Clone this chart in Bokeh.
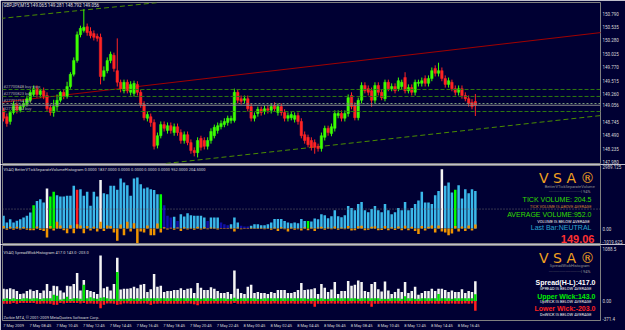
from bokeh.plotting import figure
from bokeh.layouts import column
from bokeh.models import ColumnDataSource, Range1d, FixedTicker, PrintfTickFormatter, Label, Span
from bokeh.embed import file_html
from bokeh.resources import INLINE

# ---------------- data ----------------
opens = [148.96,148.84,148.75,148.92,149.07,148.96,149.03,149.07,149.15,149.26,
         149.37,149.26,149.33,149.24,149.01,148.92,149.03,149.15,149.30,149.22,
         149.41,149.64,149.90,150.39,150.47,150.54,150.45,150.41,150.36,150.34,
         149.60,149.71,149.90,150.00,149.71,149.49,149.33,149.49,149.30,149.28,
         149.45,149.30,149.07,148.81,148.84,148.73,148.30,148.48,148.69,148.58,
         148.67,148.54,148.65,148.54,148.39,148.50,148.35,148.20,148.16,148.43,
         148.39,148.28,148.39,148.48,148.58,148.65,148.69,148.73,148.77,148.77,
         149.30,149.18,149.15,149.18,149.03,148.81,148.90,148.98,148.94,148.99,
         148.96,149.05,148.92,149.03,148.92,148.81,148.82,148.79,148.86,148.75,
         148.50,148.45,148.39,148.35,148.28,148.24,148.45,148.62,148.52,148.62,
         148.86,148.90,148.81,148.90,149.24,149.05,148.82,149.15,149.43,149.37,
         149.33,149.15,149.43,149.30,149.18,149.49,149.37,149.41,149.37,149.41,
         149.58,149.33,149.39,149.30,149.47,149.47,149.56,149.47,149.56,149.75,
         149.66,149.71,149.56,149.45,149.49,149.37,149.30,149.37,149.24,149.18,
         149.11,149.126]
closes = [148.81,148.71,148.92,149.07,148.96,149.03,149.09,149.18,149.30,149.37,
          149.26,149.33,149.22,148.99,148.92,149.03,149.15,149.30,149.22,149.41,
          149.64,149.90,150.39,150.51,150.53,150.43,150.37,150.34,150.32,149.60,
          149.71,149.90,150.02,149.75,149.49,149.37,149.49,149.33,149.45,149.47,
          149.30,149.07,148.82,148.88,148.73,148.28,148.48,148.69,148.62,148.67,
          148.58,148.65,148.54,148.39,148.50,148.35,148.20,148.16,148.39,148.26,
          148.28,148.39,148.56,148.64,148.67,148.71,148.75,148.81,148.81,149.30,
          149.15,149.13,149.18,148.99,148.81,148.86,148.98,148.92,148.99,148.96,
          149.03,148.99,149.03,148.92,148.81,148.86,148.88,148.86,148.75,148.48,
          148.39,148.31,148.26,148.26,148.24,148.48,148.62,148.54,148.65,148.90,
          148.90,148.81,148.90,149.20,149.03,148.82,149.15,149.43,149.33,149.30,
          149.15,149.43,149.30,149.20,149.49,149.37,149.41,149.33,149.52,149.49,
          149.33,149.39,149.30,149.49,149.49,149.52,149.47,149.56,149.71,149.66,
          149.71,149.56,149.45,149.52,149.37,149.30,149.37,149.24,149.18,149.09,
          149.03,149.056]
highs = [149.01,148.90,148.96,149.13,149.11,149.07,149.15,149.24,149.35,149.43,
         149.43,149.37,149.39,149.30,149.07,149.16,149.26,149.33,149.35,149.50,
         149.68,149.96,150.45,150.56,150.87,150.60,150.53,150.47,150.41,150.41,
         149.79,149.96,150.07,150.05,150.32,149.54,149.54,149.54,149.51,149.52,
         149.51,149.35,149.13,148.94,148.90,148.79,148.54,148.75,148.75,148.73,
         148.73,148.71,148.71,148.60,148.56,148.56,148.41,148.26,148.45,148.48,
         148.45,148.45,148.62,148.69,148.73,148.77,148.81,148.86,148.86,149.37,
         149.35,149.24,149.24,149.24,149.09,148.92,149.03,149.03,149.05,149.05,
         149.09,149.11,149.09,149.09,148.98,148.92,148.94,148.92,148.92,148.81,
         148.56,148.50,148.45,148.41,148.33,148.54,148.67,148.67,148.71,148.96,
         148.96,148.96,148.96,149.26,149.30,149.11,149.20,149.49,149.49,149.43,
         149.39,149.49,149.49,149.35,149.54,149.54,149.47,149.47,149.58,149.54,
         149.68,149.45,149.45,149.54,149.54,149.58,149.62,149.62,149.77,149.81,
         149.86,149.77,149.62,149.58,149.54,149.43,149.43,149.43,149.30,149.24,
         149.17,149.269]
lows = [148.75,148.65,148.69,148.88,148.90,148.92,148.99,149.03,149.11,149.22,
        149.20,149.20,149.17,148.94,148.86,148.84,148.95,149.11,149.17,149.18,
        149.37,149.60,149.86,150.34,150.43,150.37,150.32,150.28,150.26,149.45,
        149.52,149.66,149.85,149.69,149.41,149.30,149.28,149.28,149.24,149.22,
        149.24,149.01,148.77,148.75,148.65,148.22,148.24,148.43,148.56,148.52,
        148.52,148.48,148.48,148.33,148.33,148.30,148.14,148.09,148.07,148.20,
        148.22,148.22,148.33,148.43,148.52,148.60,148.64,148.67,148.71,148.73,
        149.09,149.07,149.09,148.94,148.75,148.75,148.84,148.86,148.88,148.90,
        148.90,148.94,148.86,148.86,148.75,148.75,148.77,148.73,148.69,148.43,
        148.33,148.26,148.20,148.14,148.18,148.18,148.39,148.48,148.47,148.56,
        148.81,148.75,148.75,148.84,148.98,148.77,148.77,149.09,149.28,149.24,
        149.03,149.09,149.24,149.15,149.13,149.32,149.32,149.28,149.32,149.35,
        149.28,149.28,149.24,149.24,149.41,149.41,149.41,149.41,149.51,149.60,
        149.60,149.51,149.39,149.39,149.32,149.24,149.24,149.18,149.13,149.03,
        148.98,148.853]
volumes = [620,290,450,290,380,450,540,620,780,1140,
           1350,1430,1270,1960,1570,1800,1630,1570,1570,1600,
           1600,2090,1900,1920,1600,1800,1110,1800,1570,2380,
           1730,1680,2090,2090,1900,2450,2250,2120,1600,2450,
           2500,2170,1960,2010,1920,1890,1680,1680,1140,620,
           540,570,370,700,590,750,650,620,620,620,
           540,370,540,540,540,290,210,160,210,540,
           290,130,100,100,130,210,210,160,160,210,
           290,460,460,460,370,290,260,290,260,460,
           370,370,340,490,450,700,650,500,600,900,
           600,550,650,1100,1000,900,1200,1300,900,800,
           950,1100,900,800,1200,900,700,800,1000,900,
           1300,900,1000,1200,1370,1800,1270,1270,1200,1630,
           1840,2900,2090,2250,1760,1900,2120,1470,1920,1730,
           1920,1840]
vol_delta = [120,-60,80,-60,90,-50,70,-60,-90,-80,
             100,-70,-120,-440,120,-100,330,150,-80,-230,
             160,-230,210,150,-230,120,-100,90,-150,330,
             -120,150,120,-200,-600,200,-330,330,-150,260,
             -720,-150,-200,150,-330,-330,250,-200,60,-50,
             40,-60,50,-120,60,-50,40,-60,80,-50,
             60,-40,50,40,-50,-30,30,-30,40,-150,
             50,-40,30,-30,40,30,-30,40,-40,30,
             -60,50,-120,60,-40,-150,50,-60,-40,-100,
             60,-80,50,-120,50,80,-60,50,-40,100,
             -60,50,-40,120,-100,-80,110,130,-90,-60,
             80,110,-90,-70,120,-80,60,-70,100,-80,
             130,-80,90,-120,-270,120,-100,90,150,-200,
             150,-150,-200,-330,-250,120,-150,100,-120,150,
             -100,200]
vol_signal = {9: "green", 13: "white", 14: "green", 15: "green", 22: "red", 29: "white",
              47: "green", 48: "dark", 49: "dark", 50: "dark", 52: "dark", 61: "dark",
              65: "dark", 66: "dark", 67: "dark", 71: "dark", 72: "dark", 73: "dark",
              91: "green", 131: "white", 135: "green"}
avg_volume = 952.0

price_ticks = [150.790, 150.535, 150.280, 150.025, 149.770, 149.515, 149.260,
               148.745, 148.490, 148.235, 147.980]
last_price = 149.056
order_lines = [149.354, 149.222, 148.938]
order_labels = ["#27700848 buy stop", "#27700823 buy", "#27701754 buy", "#27702754 buy"]
order_label_prices = [149.41, 149.28, 149.15, 148.99]
pending_line = 149.089
trend_red_x, trend_red_y = [-0.9, 178.7], [149.108, 150.431]
trend_up_x, trend_up_y = [-0.9, 46.4], [150.696, 150.998]
trend_lo_x, trend_lo_y = [48.5, 178.7], [147.955, 148.863]

time_bars = [0, 8, 16, 24, 32, 40, 48, 56, 64, 72, 80, 88, 96, 104, 112, 120, 128, 136]
time_labels = ["7 May 2009", "7 May 08:45", "7 May 10:45", "7 May 12:45", "7 May 14:45",
               "7 May 16:45", "7 May 18:45", "7 May 20:45", "7 May 22:45", "8 May 00:45",
               "8 May 02:45", "8 May 04:45", "8 May 06:45", "8 May 08:45", "8 May 10:45",
               "8 May 12:45", "8 May 14:45", "8 May 16:45"]

# ---------------- style ----------------
BG = "#000033"
FRAME = "#808080"
BULL = "#3cff00"
BEAR = "#ff2424"
VOLC = {"blue": "#3ab8ea", "dark": "#1010a8", "green": "#00ff00", "red": "#ff2020", "white": "#f4f4f4"}

n = len(closes)
idx = list(range(n))
xr = Range1d(-0.3, 178.4)


def make_fig(h, yr, top, bottom, xloc=None):
    p = figure(width=625, height=h, x_range=xr, y_range=yr, output_backend="svg",
               toolbar_location=None, x_axis_location=xloc, y_axis_location="right",
               min_border_left=2, min_border_right=19, min_border_top=top,
               min_border_bottom=bottom, background_fill_color=BG, border_fill_color=BG,
               outline_line_color=FRAME, outline_line_width=1)
    p.xgrid.visible = False
    p.ygrid.visible = False
    ax = p.yaxis[0]
    ax.axis_line_color = None
    ax.major_tick_out = 0
    ax.major_tick_in = 0
    ax.minor_tick_out = 0
    ax.minor_tick_in = 0
    ax.major_label_text_font = "Roboto"
    ax.major_label_text_font_size = "4.5px"
    ax.major_label_text_color = "#d8d8d8"
    ax.major_label_standoff = 2
    return p


def txt(p, x, y, s, size, color, align="left", bold=False, font="Liberation Sans", **kw):
    p.add_layout(Label(x=x, y=y, text=s, text_font=font, text_font_size=size,
                       text_color=color, text_align=align, text_baseline="middle",
                       text_font_style="bold" if bold else "normal", **kw))


# ---------------- main price pane ----------------
p1 = make_fig(164, Range1d(147.955, 150.998), 2, 1)
p1.yaxis[0].ticker = FixedTicker(ticks=price_ticks + [last_price])
p1.yaxis[0].formatter = PrintfTickFormatter(format="%.3f")

src = ColumnDataSource(dict(
    x=idx, h=highs, l=lows,
    top=[max(o, c) for o, c in zip(opens, closes)],
    bot=[min(o, c) for o, c in zip(opens, closes)],
    color=[BULL if c >= o else BEAR for o, c in zip(opens, closes)]))

p1.line(trend_up_x, trend_up_y, line_color="#4a8c00", line_dash="5 3", line_width=1)
p1.line(trend_lo_x, trend_lo_y, line_color="#4a8c00", line_dash="5 3", line_width=1)
p1.line(trend_red_x, trend_red_y, line_color="#a00000", line_width=1)
for lv in order_lines:
    p1.add_layout(Span(location=lv, dimension="width", line_color="#2f7a10",
                       line_dash="4 2", line_width=1))
p1.add_layout(Span(location=pending_line, dimension="width", line_color="#7a9a7a",
                   line_dash="2 2", line_width=1))
p1.add_layout(Span(location=last_price, dimension="width", line_color="#8c8c8c",
                   line_width=1))

p1.segment(x0="x", y0="h", x1="x", y1="l", line_color="color", line_width=1, source=src)
p1.vbar(x="x", width=0.74, top="top", bottom="bot", fill_color="color",
        line_color="color", line_width=0.5, source=src)

for s, yv in zip(order_labels, order_label_prices):
    txt(p1, 0.0, yv, s, "4px", "#a8a8a8", font="Roboto")
txt(p1, 0.0, 150.942, "GBPJPY,M15  149.065  149.281  148.792  149.056", "4.5px",
    "#e0e0e0", font="Roboto")
p1.add_layout(Label(x=178.4, y=last_price, x_offset=1.5, text="149.056", text_font="Roboto",
                    text_font_size="4.5px", text_color="#000000", text_align="left",
                    text_baseline="middle", background_fill_color="#ffffff",
                    background_fill_alpha=1.0, border_line_color="#ffffff"))

# ---------------- volume pane ----------------
p2 = make_fig(80, Range1d(-735, 3087), 1, 1)
p2.yaxis[0].ticker = FixedTicker(ticks=[2989.125, 0, -640])
p2.yaxis[0].major_label_overrides = {2989.125: "2989.125", 0: "0.00", -640: "-1019.625"}

vcols = [VOLC[vol_signal.get(i, "blue")] for i in idx]
vsrc = ColumnDataSource(dict(x=idx, v=volumes, d=vol_delta, color=vcols))
p2.add_layout(Span(location=avg_volume, dimension="width", line_color="#6a6a6a",
                   line_dash="1 2", line_width=1))
p2.vbar(x="x", width=0.75, top="v", bottom=0, fill_color="color", line_color=None, source=vsrc)
p2.vbar(x="x", width=0.75, top="d", bottom=0, fill_color="#f09400", line_color=None, source=vsrc)

txt(p2, 0.0, 2891, "VSAQ BetterVTickSeparateVolumeHistogram 0.0000 1837.0000 0.0000 0.0000 "
    "0.0000 0.0000 952.0000 204.5000", "4px", "#d8d8d8", font="Roboto")
txt(p2, 176.6, 2499, "V S A ®", "14px", "#f0a020", align="right", font="DejaVu Sans")
txt(p2, 169.2, 2058, "BetterVTickSeparateVolume", "4px", "#909090", align="center", font="Roboto")
txt(p2, 176.0, 1813, "·······························|   94%", "4px", "#909090", align="right", font="Roboto")
txt(p2, 175.7, 1421, "TICK VOLUME: 204.5", "7px", "#33dd00", align="right")
txt(p2, 175.7, 1078, "TICK VOLUME IS ABOVE AVERAGE", "4px", "#d08030", align="right", font="Roboto")
txt(p2, 175.7, 686, "AVERAGE VOLUME:952.0", "7px", "#33dd00", align="right")
txt(p2, 175.2, 343, "VOLUME IS BELOW AVERAGE", "4px", "#f0f0f0", align="right", font="Roboto")
txt(p2, 175.7, 49, "Last Bar:NEUTRAL", "7px", "#2aa6d0", align="right")
txt(p2, 176.6, -490, "149.06", "11px", "#ff3030", align="right", bold=True)

# ---------------- spread / wick pane ----------------
p3 = make_fig(86, Range1d(-410, 1168.5), 1, 8, xloc="below")
p3.yaxis[0].ticker = FixedTicker(ticks=[1088.5, 0, -371.4])
p3.yaxis[0].major_label_overrides = {1088.5: "1088.5", 0: "0.00", -371.4: "-371.4"}
xa = p3.xaxis[0]
shift = 3.0
xa.ticker = FixedTicker(ticks=[b + shift for b in time_bars])
xa.major_label_overrides = {b + shift: t for b, t in zip(time_bars, time_labels)}
xa.axis_line_color = None
xa.major_tick_out = 0
xa.major_tick_in = 0
xa.minor_tick_out = 0
xa.minor_tick_in = 0
xa.major_label_text_font = "Roboto"
xa.major_label_text_font_size = "4px"
xa.major_label_text_color = "#d8d8d8"
xa.major_label_standoff = 2

spread = [(h - l) * 1000 for h, l in zip(highs, lows)]
upper = [(h - max(o, c)) * 1000 for o, h, c in zip(opens, highs, closes)]
lower = [-(min(o, c) - l) * 1000 for o, l, c in zip(opens, lows, closes)]
ssrc = ColumnDataSource(dict(x=idx, s=spread, u=upper, lo=lower))
p3.vbar(x="x", width=0.75, top="s", bottom=0, fill_color="#f4f4f4", line_color=None, source=ssrc)
p3.vbar(x="x", width=0.75, top="u", bottom=0, fill_color="#00e400", line_color=None, source=ssrc)
p3.vbar(x="x", width=0.75, top="lo", bottom=0, fill_color="#ff2020", line_color=None, source=ssrc)

txt(p3, 0.0, 1025, "VSAQ SpreadWickHistogram 417.0 143.0 -203.0", "4px", "#d8d8d8", font="Roboto")
txt(p3, 0.0, -348, "Zorbie MT4, © 2001-2009 MetaQuotes Software Corp.", "4px", "#d8d8d8", font="Roboto")
txt(p3, 176.6, 902, "V S A ®", "14px", "#f0a020", align="right", font="DejaVu Sans")
txt(p3, 169.2, 738, "SpreadWickHistogram", "4px", "#909090", align="center", font="Roboto")
txt(p3, 176.0, 615, "·······························|   94%", "4px", "#909090", align="right", font="Roboto")
txt(p3, 176.9, 390, "Spread(H-L):417.0", "7px", "#ffffff", align="right", bold=True)
txt(p3, 175.7, 267, "SPREAD IS BELOW AVERAGE", "4px", "#f0f0f0", align="right", font="Roboto")
txt(p3, 176.9, 103, "Upper Wick:143.0", "7px", "#00ee00", align="right", bold=True)
txt(p3, 175.7, -20, "UpWICK IS BELOW AVERAGE", "4px", "#f0f0f0", align="right", font="Roboto")
txt(p3, 176.9, -164, "Lower Wick:-203.0", "7px", "#ff2020", align="right", bold=True)
txt(p3, 175.7, -287, "DnWICK IS BELOW AVERAGE", "4px", "#f0f0f0", align="right", font="Roboto")

layout = column(p1, p2, p3, spacing=0)
open("out.html", "w").write(file_html(layout, INLINE))
